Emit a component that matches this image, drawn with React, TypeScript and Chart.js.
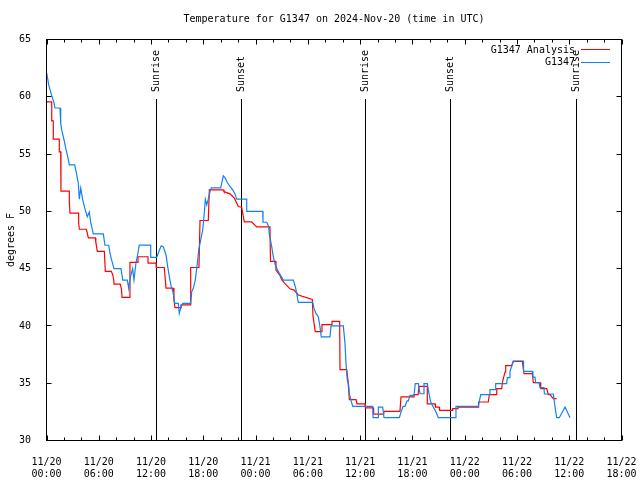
import React, { useEffect, useRef } from 'react';
import { Chart, registerables } from 'chart.js';

Chart.register(...registerables);

const TITLE = 'Temperature for G1347 on 2024-Nov-20 (time in UTC)';
const Y_LABEL = 'degrees F';
const FONT = '"DejaVu Sans Mono", "Liberation Mono", monospace';

// hours since 11/20 00:00 UTC
const xTickLabels = [
  ['11/20', '00:00'], ['11/20', '06:00'], ['11/20', '12:00'], ['11/20', '18:00'],
  ['11/21', '00:00'], ['11/21', '06:00'], ['11/21', '12:00'], ['11/21', '18:00'],
  ['11/22', '00:00'], ['11/22', '06:00'], ['11/22', '12:00'], ['11/22', '18:00'],
];
const yTickValues = [30, 35, 40, 45, 50, 55, 60, 65];

const legendLabels = ['G1347 Analysis', 'G1347'];
const seriesColors = ['#ff0000', 'rgb(18,130,240)'];

const sunHours = [12.6, 22.36, 36.6, 46.35, 60.74];
const sunLabels = ['Sunrise', 'Sunset', 'Sunrise', 'Sunset', 'Sunrise'];

const analysisHours = [
  0.0, 0.6, 0.6, 0.78, 0.78, 1.47, 1.47, 1.63, 1.66, 2.62, 2.62, 2.7, 3.69, 3.69, 3.77,
  4.57, 4.65, 4.8, 5.6, 5.66, 5.83, 6.64, 6.75, 7.44, 7.6, 7.72, 7.75, 8.46, 8.6, 8.67,
  9.55, 9.58, 10.5, 10.5, 11.65, 11.65, 12.57, 12.6, 13.52, 13.72, 14.52, 14.63, 14.75,
  15.44, 15.44, 16.55, 16.55, 17.5, 17.62, 18.57, 18.69, 20.29, 20.37, 21.06, 21.56,
  22.02, 22.4, 22.7, 23.55, 24.13, 25.65, 25.71, 26.31, 26.34, 26.8, 27.03, 27.38,
  27.95, 28.41, 28.9, 30.51, 30.59, 30.85, 31.59, 31.62, 32.74, 32.77, 33.65, 33.69,
  34.46, 34.61, 34.76, 35.53, 35.64, 36.56, 36.6, 37.51, 37.55, 38.7, 38.74, 40.57,
  40.69, 42.18, 42.2, 42.65, 42.76, 43.71, 43.71, 44.6, 44.65, 45.09, 45.12, 46.62,
  46.62, 47.23, 47.23, 49.56, 49.6, 50.71, 50.83, 51.6, 51.68, 52.25, 52.36, 52.63,
  52.71, 53.4, 53.58, 54.61, 54.81, 55.76, 55.88, 56.65, 56.73, 57.42, 57.6, 57.8,
  58.17, 58.56,
];
const analysisTemps = [
  59.55, 59.55, 57.9, 57.9, 56.3, 56.3, 55.2, 55.2, 51.76, 51.76, 50.8, 49.84, 49.84, 49.0, 48.44,
  48.44, 48.2, 47.68, 47.68, 47.33, 46.5, 46.5, 44.76, 44.76, 44.47, 44.0, 43.65, 43.65, 43.24, 42.49,
  42.49, 45.55, 45.55, 46.04, 46.04, 45.49, 45.49, 45.1, 45.1, 43.3, 43.3, 42.25, 41.6,
  41.6, 41.84, 41.84, 45.1, 45.1, 49.2, 49.2, 51.88, 51.88, 51.73, 51.53, 51.15,
  50.42, 50.36, 49.08, 49.08, 48.64, 48.64, 45.64, 45.64, 44.88, 44.41, 44.0, 43.7,
  43.24, 43.13, 42.7, 42.31, 40.85, 39.51, 39.51, 40.12, 40.12, 40.39, 40.39, 36.19,
  36.19, 35.25, 33.56, 33.56, 33.2, 33.2, 32.85, 32.85, 32.3, 32.3, 32.54, 32.54,
  33.8, 33.8, 34.0, 34.0, 34.73, 34.73, 33.2, 33.2, 32.92, 32.92, 32.63, 32.63,
  32.78, 32.78, 32.92, 32.92, 33.36, 33.36, 34.0, 34.0, 34.53, 34.53, 35.17, 35.98,
  36.54, 36.54, 36.91, 36.91, 35.84, 35.84, 35.05, 35.05, 34.53, 34.53, 34.0, 34.0,
  33.65, 33.65,
];

const obsHours = [
  0.02, 0.25, 0.4, 0.63, 0.83, 0.98, 1.55, 1.63, 1.78, 2.01, 2.24, 2.47, 2.62, 3.24, 3.47,
  3.65, 3.76, 3.93, 4.16, 4.45, 4.68, 4.91, 5.07, 5.37, 6.52, 6.71, 7.14, 7.29, 7.48, 7.75,
  8.55, 8.75, 9.27, 9.44, 9.55, 9.66, 9.89, 10.04, 10.27, 10.42, 10.65, 11.96, 11.96, 12.65,
  12.95, 13.18, 13.41, 13.72, 13.91, 14.1, 14.33, 14.55, 14.72, 15.13, 15.24, 15.4, 15.63,
  16.55, 16.67, 16.85, 17.08, 17.31, 17.5, 17.7, 17.93, 18.08, 18.23, 18.39, 18.57, 18.77,
  18.92, 20.0, 20.11, 20.29, 20.52, 20.75, 21.06, 21.37, 21.6, 21.83, 22.98, 22.98, 24.82,
  24.85, 25.28, 25.5, 25.57, 25.85, 26.03, 26.26, 26.49, 26.72, 27.0, 27.18, 28.33, 28.56,
  28.72, 28.9, 30.56, 30.7, 30.93, 31.2, 31.39, 31.54, 32.54, 32.66, 34.07, 34.26, 34.38,
  34.53, 34.69, 34.76, 34.95, 35.15, 37.44, 37.48, 38.09, 38.09, 38.59, 38.74, 40.5, 40.69,
  40.92, 41.15, 41.38, 41.53, 41.72, 42.18, 42.33, 42.68, 42.87, 43.25, 43.33, 43.71, 43.87,
  44.1, 44.4, 44.71, 44.97, 46.89, 47.0, 49.56, 49.84, 50.9, 50.9, 51.5, 51.56, 52.82,
  52.89, 53.15, 53.2, 53.4, 53.58, 54.73, 54.76, 55.76, 55.84, 56.07, 56.15, 56.53, 56.65,
  57.1, 57.15, 58.17, 58.37, 58.56, 58.86, 59.52, 60.09,
];
const obsTemps = [
  62.09, 61.06, 60.63, 60.04, 59.55, 59.02, 59.02, 57.7, 56.98, 56.25, 55.4, 54.65, 54.06, 54.06, 53.19,
  52.46, 51.06, 52.03, 51.0, 50.13, 49.54, 49.95, 49.05, 48.03, 48.03, 47.04, 47.04, 46.34, 45.75, 45.0,
  45.0, 44.0, 44.0, 43.28, 44.0, 44.35, 45.0, 44.0, 45.5, 46.04, 47.06, 47.06, 45.98, 45.98,
  46.6, 47.0, 46.9, 46.19, 45.17, 44.3, 43.36, 42.93, 41.96, 41.96, 41.09, 41.53, 41.96,
  41.96, 42.98, 43.28, 44.0, 45.46, 46.77, 47.5, 48.38, 49.54, 51.06, 50.56, 51.06, 51.73,
  52.05, 52.05, 52.46, 53.1, 52.9, 52.52, 52.17, 51.88, 51.59, 51.06, 51.06, 50.0, 50.0,
  49.05, 49.05, 48.67, 48.03, 46.92, 46.04, 45.31, 44.94, 44.59, 44.24, 44.0, 44.0, 43.42,
  42.84, 42.05, 42.05, 41.53, 41.09, 40.8, 39.92, 39.04, 39.04, 40.0, 40.0, 38.46, 36.71,
  35.25, 34.81, 34.08, 33.5, 32.98, 32.98, 31.99, 31.99, 32.92, 32.92, 31.99, 31.99, 32.48,
  32.98, 32.98, 33.45, 33.45, 33.94, 33.94, 34.97, 34.97, 34.08, 34.08, 34.97, 34.97, 34.23,
  33.36, 32.92, 32.48, 31.99, 31.99, 32.98, 32.98, 34.0, 34.0, 34.44, 34.44, 34.97, 34.97,
  35.49, 35.49, 36.04, 36.5, 36.94, 36.94, 36.04, 36.04, 35.54, 35.54, 35.05, 35.05, 34.61,
  34.61, 34.06, 34.06, 32.92, 31.99, 31.99, 32.92, 31.99,
];

const X_MIN = 0;
const X_MAX = 66;
const X_MAJOR = 6;
const X_MINOR = 2;

const overlayPlugin = {
  id: 'gnuplotOverlay',
  beforeDatasetsDraw(chart: any) {
    const { ctx, chartArea, scales } = chart;
    const x = scales.x;
    ctx.save();
    ctx.strokeStyle = '#000';
    ctx.lineWidth = 1;
    ctx.fillStyle = '#000';
    ctx.font = `10px ${FONT}`;
    sunHours.forEach((h, i) => {
      const px = Math.round(x.getPixelForValue(h)) + 0.5;
      ctx.beginPath();
      ctx.moveTo(px, 99);
      ctx.lineTo(px, chartArea.bottom);
      ctx.stroke();
      ctx.save();
      ctx.translate(px, 92);
      ctx.rotate(-Math.PI / 2);
      ctx.textAlign = 'left';
      ctx.textBaseline = 'middle';
      ctx.fillText(sunLabels[i], 0, 0);
      ctx.restore();
    });
    ctx.restore();
  },
  afterDatasetsDraw(chart: any) {
    const { ctx, chartArea, scales } = chart;
    const { left, right, top, bottom } = chartArea;
    const x = scales.x;
    const y = scales.y;
    ctx.save();
    ctx.strokeStyle = '#000';
    ctx.lineWidth = 1;
    ctx.strokeRect(left, top, right - left, bottom - top);
    ctx.beginPath();
    for (let h = X_MIN; h <= X_MAX; h += X_MINOR) {
      const px = Math.round(x.getPixelForValue(h)) + 0.5;
      const len = h % X_MAJOR === 0 ? 5 : 3;
      ctx.moveTo(px, bottom);
      ctx.lineTo(px, bottom - len);
      ctx.moveTo(px, top);
      ctx.lineTo(px, top + len);
    }
    yTickValues.forEach((v) => {
      const py = Math.round(y.getPixelForValue(v) - 0.5) + 0.5;
      ctx.moveTo(left, py);
      ctx.lineTo(left + 5, py);
      ctx.moveTo(right, py);
      ctx.lineTo(right - 5, py);
    });
    ctx.stroke();
    ctx.restore();
  },
  afterDraw(chart: any) {
    const { ctx, chartArea } = chart;
    ctx.save();
    ctx.fillStyle = '#000';
    ctx.font = `10px ${FONT}`;
    ctx.textAlign = 'center';
    ctx.textBaseline = 'middle';
    ctx.fillText(TITLE, (chartArea.left + chartArea.right) / 2, 19);

    ctx.save();
    ctx.translate(11, (chartArea.top + chartArea.bottom) / 2);
    ctx.rotate(-Math.PI / 2);
    ctx.fillText(Y_LABEL, 0, 0);
    ctx.restore();

    const legendY = [50, 62.5];
    legendLabels.forEach((label, i) => {
      ctx.textAlign = 'right';
      ctx.fillStyle = '#000';
      ctx.fillText(label, 575, legendY[i]);
      ctx.strokeStyle = seriesColors[i];
      ctx.lineWidth = 1;
      ctx.beginPath();
      ctx.moveTo(581, Math.round(legendY[i]) - 0.5);
      ctx.lineTo(610, Math.round(legendY[i]) - 0.5);
      ctx.stroke();
    });
    ctx.restore();
  },
};

export default function App() {
  const canvasRef = useRef<HTMLCanvasElement | null>(null);

  useEffect(() => {
    document.body.style.margin = '0';
    const canvas = canvasRef.current;
    if (!canvas) return;
    const analysis = analysisHours.map((h, i) => ({ x: h, y: analysisTemps[i] }));
    const obs = obsHours.map((h, i) => ({ x: h, y: obsTemps[i] }));

    const chart = new Chart(canvas, {
      type: 'line',
      data: {
        datasets: [
          {
            label: legendLabels[0],
            data: analysis,
            borderColor: seriesColors[0],
            borderWidth: 1.2,
            pointRadius: 0,
            tension: 0,
            fill: false,
            order: 2,
          },
          {
            label: legendLabels[1],
            data: obs,
            borderColor: seriesColors[1],
            borderWidth: 1.2,
            pointRadius: 0,
            tension: 0,
            fill: false,
            order: 1,
          },
        ],
      },
      options: {
        responsive: false,
        animation: false,
        events: [],
        layout: { padding: { top: 39.5, right: 18.5, left: 0, bottom: 0 } },
        plugins: {
          legend: { display: false },
          title: { display: false },
          tooltip: { enabled: false },
        },
        scales: {
          x: {
            type: 'linear',
            min: X_MIN,
            max: X_MAX,
            grid: { display: false },
            border: { display: false },
            afterFit: (scale: any) => {
              scale.height = 39.5;
              scale.paddingLeft = 0;
              scale.paddingRight = 0;
            },
            afterBuildTicks: (scale: any) => {
              scale.ticks = xTickLabels.map((_, i) => ({ value: X_MIN + i * X_MAJOR }));
            },
            ticks: {
              autoSkip: false,
              maxRotation: 0,
              minRotation: 0,
              padding: 7.5,
              color: '#000',
              font: { family: FONT, size: 10, lineHeight: 1.25 },
              callback: (_v: any, i: number) => xTickLabels[i],
            },
          },
          y: {
            type: 'linear',
            min: 30,
            max: 65,
            grid: { display: false },
            border: { display: false },
            afterFit: (scale: any) => {
              scale.width = 46.5;
              scale.paddingTop = 0;
              scale.paddingBottom = 0;
            },
            afterBuildTicks: (scale: any) => {
              scale.ticks = yTickValues.map((v) => ({ value: v }));
            },
            ticks: {
              padding: 7.5,
              color: '#000',
              font: { family: FONT, size: 10 },
              callback: (v: any) => String(v),
            },
          },
        },
      },
      plugins: [overlayPlugin],
    });
    return () => chart.destroy();
  }, []);

  return (
    <div style={{ width: 640, height: 480, background: '#fff' }}>
      <canvas ref={canvasRef} width={640} height={480} style={{ display: 'block' }} />
    </div>
  );
}
